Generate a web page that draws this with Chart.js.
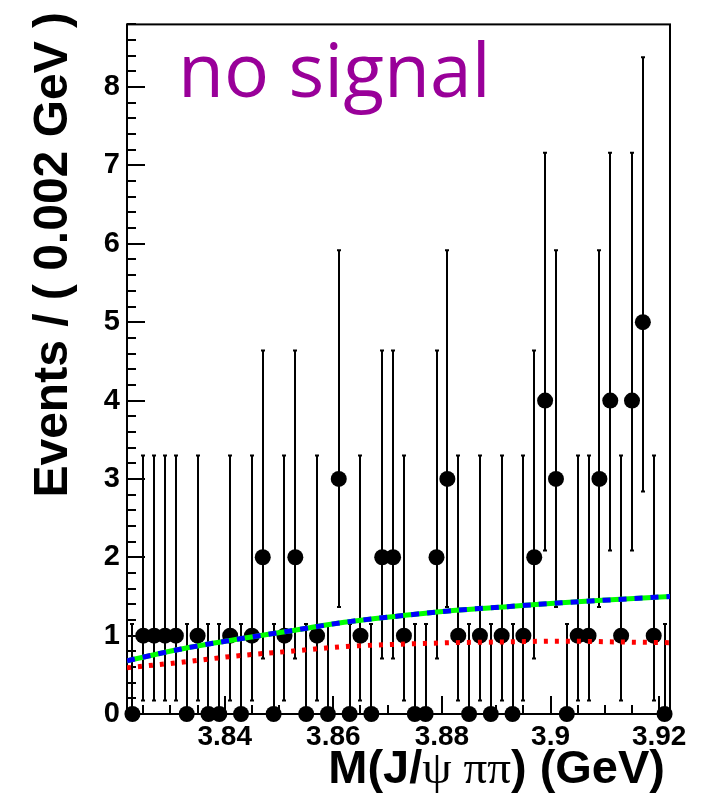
<!DOCTYPE html>
<html>
<head>
<meta charset="utf-8">
<script src="https://cdn.jsdelivr.net/npm/chart.js@4/dist/chart.umd.min.js"></script>
<style>
  html, body { margin: 0; padding: 0; background: #fff; }
  #wrap { width: 720px; height: 800px; }
</style>
</head>
<body>
<div id="wrap"><canvas id="myChart" width="720" height="800"></canvas></div>
<script>
// bin centres of M(J/psi pi pi), 0.002 GeV bins
const massBins = [
  3.823, 3.825, 3.827, 3.829, 3.831, 3.833, 3.835, 3.837, 3.839, 3.841,
  3.843, 3.845, 3.847, 3.849, 3.851, 3.853, 3.855, 3.857, 3.859, 3.861,
  3.863, 3.865, 3.867, 3.869, 3.871, 3.873, 3.875, 3.877, 3.879, 3.881,
  3.883, 3.885, 3.887, 3.889, 3.891, 3.893, 3.895, 3.897, 3.899, 3.901,
  3.903, 3.905, 3.907, 3.909, 3.911, 3.913, 3.915, 3.917, 3.919, 3.921
];
const events = [
  0, 1, 1, 1, 1, 0, 1, 0, 0, 1,
  0, 1, 2, 0, 1, 2, 0, 1, 0, 3,
  0, 1, 0, 2, 2, 1, 0, 0, 2, 3,
  1, 0, 1, 0, 1, 0, 1, 2, 4, 3,
  0, 1, 1, 3, 4, 1, 4, 5, 1, 0
];
// Poisson error bars, indexed by number of events
const errDown = [0, 0.827, 1.292, 1.633, 1.914, 2.160];
const errUp   = [1.148, 2.300, 2.638, 2.918, 3.163, 3.382];

// fit curves
const curveMass = [3.822, 3.832, 3.842, 3.852, 3.862, 3.872, 3.882, 3.892, 3.902, 3.912, 3.922];
const totalFit  = [0.68, 0.83, 0.95, 1.06, 1.17, 1.25, 1.32, 1.37, 1.42, 1.46, 1.50];
const bkgFit    = [0.59, 0.66, 0.74, 0.80, 0.86, 0.89, 0.91, 0.92, 0.93, 0.92, 0.91];

const xTicks = [3.84, 3.86, 3.88, 3.90, 3.92];
const xTickLabels = ['3.84', '3.86', '3.88', '3.9', '3.92'];
const yTicks = [0, 1, 2, 3, 4, 5, 6, 7, 8];

const sansBold = '"Liberation Sans", Arial, Helvetica, sans-serif';

const pts = (xs, ys) => xs.map((x, i) => ({ x: x, y: ys[i] }));

// frame, ticks and error bars under the data
const rootFrame = {
  id: 'rootFrame',
  beforeDatasetsDraw(chart) {
    const { ctx, chartArea: a, scales: { x, y } } = chart;
    ctx.save();
    ctx.strokeStyle = '#000';
    ctx.lineWidth = 2;
    ctx.strokeRect(a.left, a.top, a.right - a.left, a.bottom - a.top);

    ctx.beginPath();
    for (let v = 0; v <= 8.81; v += 0.2) {
      const py = Math.round(y.getPixelForValue(v));
      const major = Math.abs(v - Math.round(v)) < 1e-6;
      ctx.moveTo(a.left, py);
      ctx.lineTo(a.left + (major ? 18 : 9), py);
    }
    for (let v = 3.825; v <= 3.9201; v += 0.005) {
      const px = Math.round(x.getPixelForValue(v));
      const major = xTicks.some(t => Math.abs(t - v) < 1e-6);
      ctx.moveTo(px, a.bottom);
      ctx.lineTo(px, a.bottom - (major ? 18 : 9));
    }
    ctx.stroke();

    // error bars
    ctx.lineWidth = 2;
    ctx.beginPath();
    massBins.forEach((m, i) => {
      const n = events[i];
      const px = Math.round(x.getPixelForValue(m));
      const y1 = y.getPixelForValue(n + errUp[n]);
      const y0 = y.getPixelForValue(n - errDown[n]);
      ctx.moveTo(px, y0);
      ctx.lineTo(px, y1);
      ctx.moveTo(px - 2, y1);
      ctx.lineTo(px + 2, y1);
      if (n > 0) {
        ctx.moveTo(px - 2, y0);
        ctx.lineTo(px + 2, y0);
      }
    });
    ctx.stroke();
    ctx.restore();
  },
  afterDraw(chart) {
    const { ctx } = chart;
    ctx.save();
    ctx.fillStyle = '#000';
    ctx.textBaseline = 'alphabetic';

    // y title
    ctx.save();
    ctx.translate(67, 12);
    ctx.rotate(-Math.PI / 2);
    ctx.textAlign = 'right';
    ctx.font = 'bold 48px ' + sansBold;
    ctx.fillText('Events / ( 0.002 GeV )', 0, 0);
    ctx.restore();

    // x title with greek letters in a serif face
    const parts = [
      { t: 'M(J/', f: 'bold 47px ' + sansBold },
      { t: 'ψ ππ', f: '47px "Liberation Serif", "DejaVu Serif", serif' },
      { t: ') (GeV)', f: 'bold 47px ' + sansBold }
    ];
    let total = 0;
    parts.forEach(p => { ctx.font = p.f; p.w = ctx.measureText(p.t).width; total += p.w; });
    let cx = 665 - total;
    ctx.textAlign = 'left';
    parts.forEach(p => { ctx.font = p.f; ctx.fillText(p.t, cx, 783); cx += p.w; });

    // label
    ctx.fillStyle = '#990099';
    ctx.font = '75px "Open Sans", "DejaVu Sans", sans-serif';
    ctx.fillText('no signal', 178, 97);
    ctx.restore();
  }
};

const config = {
  type: 'scatter',
  data: {
    datasets: [
      {
        label: 'total fit (blue)',
        data: pts(curveMass, totalFit),
        showLine: true,
        borderColor: '#0000ff',
        borderWidth: 5,
        borderDash: [8, 8],
        pointRadius: 0,
        cubicInterpolationMode: 'monotone'
      },
      {
        label: 'total fit (green)',
        data: pts(curveMass, totalFit),
        showLine: true,
        borderColor: '#00ff00',
        borderWidth: 5,
        pointRadius: 0,
        cubicInterpolationMode: 'monotone'
      },
      {
        label: 'background',
        data: pts(curveMass, bkgFit),
        showLine: true,
        borderColor: '#ff0000',
        borderWidth: 5,
        borderDash: [4, 7],
        pointRadius: 0,
        cubicInterpolationMode: 'monotone'
      },
      {
        label: 'data',
        data: pts(massBins, events),
        pointRadius: 8,
        pointBackgroundColor: '#000',
        pointBorderWidth: 0,
        clip: false
      }
    ]
  },
  options: {
    responsive: false,
    animation: false,
    events: [],
    layout: { padding: { left: 0, top: 15, right: 50, bottom: 0 } },
    plugins: { legend: { display: false }, tooltip: { enabled: false } },
    scales: {
      x: {
        type: 'linear',
        min: 3.822,
        max: 3.922,
        grid: { display: false, drawTicks: false },
        border: { display: false },
        afterBuildTicks: s => { s.ticks = xTicks.map(v => ({ value: v })); },
        afterFit: s => { s.height = 86; },
        ticks: {
          autoSkip: false,
          maxRotation: 0,
          padding: 6,
          color: '#000',
          font: { family: sansBold, weight: 'bold', size: 28 },
          callback: (v, i) => xTickLabels[i]
        }
      },
      y: {
        min: 0,
        max: 8.8,
        grid: { display: false, drawTicks: false },
        border: { display: false },
        afterBuildTicks: s => { s.ticks = yTicks.map(v => ({ value: v })); },
        afterFit: s => { s.width = 127; },
        ticks: {
          padding: 7,
          color: '#000',
          font: { family: sansBold, weight: 'bold', size: 29 },
          callback: v => String(v)
        }
      }
    }
  },
  plugins: [rootFrame]
};

const myChart = new Chart(document.getElementById('myChart'), config);
</script>
</body>
</html>
